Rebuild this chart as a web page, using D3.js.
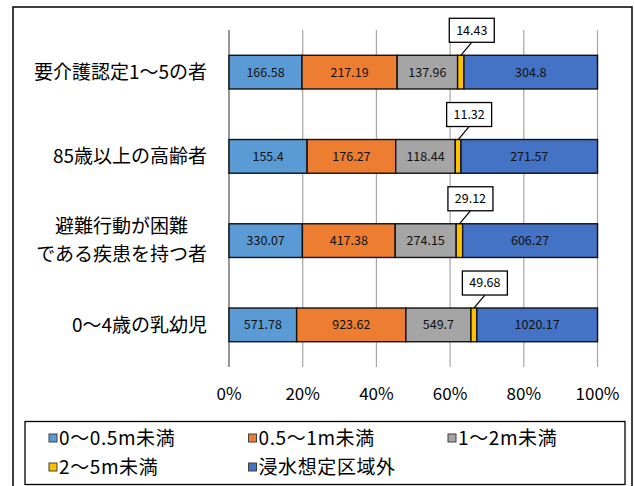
<!DOCTYPE html>
<html>
<head>
<meta charset="utf-8">
<script src="https://cdn.jsdelivr.net/npm/d3@7"></script>
<style>
  body { margin: 0; background: #fff; }
  svg { display: block; font-family: "Noto Sans CJK JP", "Noto Sans", sans-serif; }
</style>
</head>
<body>
<svg id="chart" width="635" height="486"></svg>
<script>
// categories (top to bottom)
const categories = ["要介護認定1～5の者", "85歳以上の高齢者", "避難行動が困難\nである疾患を持つ者", "0～4歳の乳幼児"];
// series
const seriesNames = ["0～0.5m未満", "0.5～1m未満", "1～2m未満", "2～5m未満", "浸水想定区域外"];
const seriesColors = ["#5B9BD5", "#ED7D31", "#A5A5A5", "#FFC000", "#4472C4"];
const s0to05 = [166.58, 155.4, 330.07, 571.78];
const s05to1 = [217.19, 176.27, 417.38, 923.62];
const s1to2 = [137.96, 118.44, 274.15, 549.7];
const s2to5 = [14.43, 11.32, 29.12, 49.68];
const sOutside = [304.8, 271.57, 606.27, 1020.17];
const tickLabels = ["0%", "20%", "40%", "60%", "80%", "100%"];

const rows = categories.map((c, i) => ({
  cat: c,
  s0: s0to05[i], s1: s05to1[i], s2: s1to2[i], s3: s2to5[i], s4: sOutside[i]
}));
const keys = ["s0", "s1", "s2", "s3", "s4"];

const svg = d3.select("#chart");

// outer frame
svg.append("rect").attr("x", 13).attr("y", 7).attr("width", 619).attr("height", 490)
  .attr("fill", "none").attr("stroke", "#000").attr("stroke-width", 1.5);

const x = d3.scaleLinear().domain([0, 1]).range([229, 597.5]);
const y = d3.scaleBand().domain(categories).range([30, 367]).paddingInner(0.6).paddingOuter(0.3);

// gridlines
const ticks = d3.range(0, 1.0001, 0.2);
svg.append("g").selectAll("line").data(ticks).join("line")
  .attr("x1", d => x(d)).attr("x2", d => x(d))
  .attr("y1", 30).attr("y2", 367)
  .attr("stroke", (d, i) => i === 0 ? "#8c8c8c" : "#a6a6a6")
  .attr("stroke-width", (d, i) => i === 0 ? 1.8 : 1.2);

// tick labels
svg.append("g").selectAll("text").data(ticks).join("text")
  .attr("x", d => x(d)).attr("y", 400)
  .attr("text-anchor", "middle")
  .attr("font-size", 17).attr("fill", "#000")
  .text((d, i) => tickLabels[i]);

// stacked bars
const stack = d3.stack().keys(keys).offset(d3.stackOffsetExpand);
const layers = stack(rows);

const g = svg.append("g");
layers.forEach((layer, li) => {
  g.append("g").selectAll("rect").data(layer).join("rect")
    .attr("x", d => x(d[0]))
    .attr("width", d => x(d[1]) - x(d[0]))
    .attr("y", d => y(d.data.cat))
    .attr("height", y.bandwidth())
    .attr("fill", seriesColors[li])
    .attr("stroke", "#111").attr("stroke-width", 1.4);
});

// labels inside bars
layers.forEach((layer, li) => {
  if (keys[li] === "s3") return;
  g.append("g").selectAll("text").data(layer).join("text")
    .attr("x", d => (x(d[0]) + x(d[1])) / 2)
    .attr("y", d => y(d.data.cat) + y.bandwidth() / 2)
    .attr("dy", "0.35em")
    .attr("text-anchor", "middle")
    .attr("font-size", 12.5).attr("fill", "#111")
    .text(d => d.data[keys[li]]);
});

// callouts for 2-5m
const callout = layers[3];
callout.forEach(d => {
  const cx = (x(d[0]) + x(d[1])) / 2;
  const top = y(d.data.cat);
  const bw = 45, bh = 24;
  const bx = cx + 11, by = top - 13 - bh;
  g.append("line").attr("x1", bx).attr("y1", by + bh).attr("x2", cx).attr("y2", top)
    .attr("stroke", "#000").attr("stroke-width", 1.2);
  g.append("rect").attr("x", bx - bw / 2).attr("y", by).attr("width", bw).attr("height", bh)
    .attr("fill", "#fff").attr("stroke", "#000").attr("stroke-width", 1.3);
  g.append("text").attr("x", bx).attr("y", by + bh / 2).attr("dy", "0.35em")
    .attr("text-anchor", "middle").attr("font-size", 12.5).attr("fill", "#000")
    .text(d.data.s3);
});

// category labels
const catG = svg.append("g");
categories.forEach(c => {
  const lines = c.split("\n");
  const cy = y(c) + y.bandwidth() / 2;
  const t = catG.append("text").attr("font-size", 19).attr("fill", "#000")
    .attr("text-anchor", "middle");
  lines.forEach((ln, i) => {
    t.append("tspan").attr("x", 0)
      .attr("y", cy + (i - (lines.length - 1) / 2) * 27.6)
      .attr("dy", "0.35em").text(ln);
  });
  // right-align block to x=207, center lines within block
  let maxW = 0;
  t.selectAll("tspan").each(function () { maxW = Math.max(maxW, this.getComputedTextLength()); });
  t.selectAll("tspan").attr("x", 207 - maxW / 2);
});

// legend
svg.append("rect").attr("x", 25).attr("y", 421.5).attr("width", 600).attr("height", 63)
  .attr("fill", "#fff").attr("stroke", "#000").attr("stroke-width", 1.3);
const leg = svg.append("g").selectAll("g").data(seriesNames).join("g")
  .attr("transform", (d, i) => `translate(${49 + (i % 3) * 199.5},${i < 3 ? 438 : 467})`);
leg.append("rect").attr("x", 0).attr("y", -4).attr("width", 8).attr("height", 8)
  .attr("fill", (d, i) => seriesColors[i]).attr("stroke", "#404040").attr("stroke-width", 1);
leg.append("text").attr("x", 10).attr("dy", "0.35em")
  .attr("font-size", 19).attr("letter-spacing", 0.6).attr("fill", "#000").text(d => d);
</script>
</body>
</html>
